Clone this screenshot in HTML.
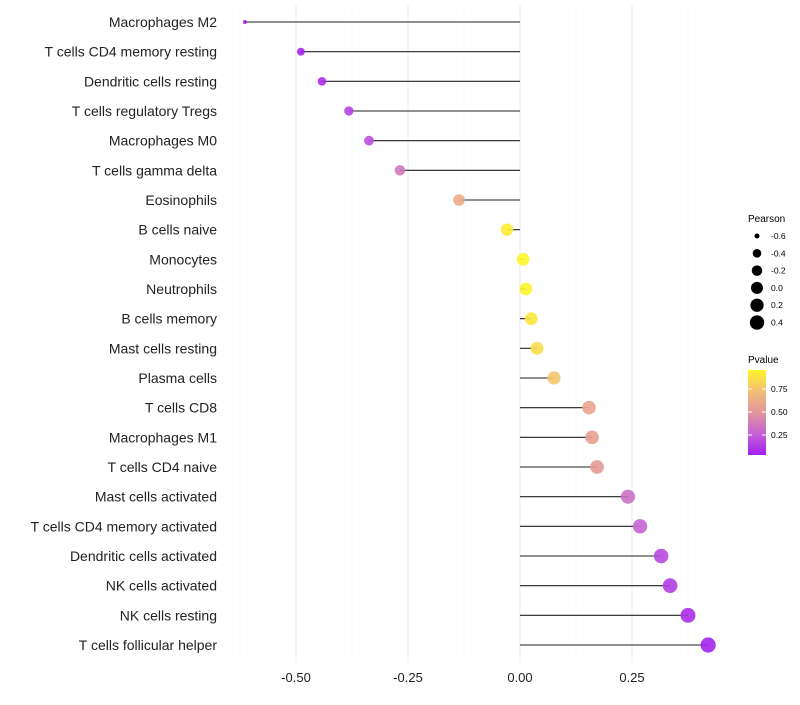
<!DOCTYPE html>
<html><head><meta charset="utf-8"><style>
body{margin:0;background:#fff;font-family:"Liberation Sans",sans-serif}
svg text{font-family:"Liberation Sans",sans-serif}
</style></head><body>
<svg id="chart" width="800" height="700" xmlns="http://www.w3.org/2000/svg">
<defs><linearGradient id="pg" x1="0" y1="1" x2="0" y2="0">
<stop offset="0" stop-color="#a21ff0"/><stop offset="0.25" stop-color="#c462d4"/><stop offset="0.5" stop-color="#e2969a"/><stop offset="0.75" stop-color="#f2be78"/><stop offset="1" stop-color="#fff52a"/></linearGradient></defs>
<g id="grid"></g>
<g id="marks"></g>
<g id="axes"></g>
<g id="sizeLeg">
<text x="748" y="222" font-size="10">Pearson</text>
</g>
<g>
<text x="748" y="363" font-size="10">Pvalue</text>
<rect x="748" y="370" width="18" height="85" fill="url(#pg)"/>
<line x1="748" y1="389" x2="752" y2="389" stroke="#fff"/><line x1="762" y1="389" x2="766" y2="389" stroke="#fff"/>
<line x1="748" y1="412" x2="752" y2="412" stroke="#fff"/><line x1="762" y1="412" x2="766" y2="412" stroke="#fff"/>
<line x1="748" y1="435" x2="752" y2="435" stroke="#fff"/><line x1="762" y1="435" x2="766" y2="435" stroke="#fff"/>
<text x="771" y="392" font-size="8.5">0.75</text>
<text x="771" y="415" font-size="8.5">0.50</text>
<text x="771" y="438" font-size="8.5">0.25</text>
</g>
</svg>
<script>
const categories=["Macrophages M2","T cells CD4 memory resting","Dendritic cells resting","T cells regulatory  Tregs ","Macrophages M0","T cells gamma delta","Eosinophils","B cells naive","Monocytes","Neutrophils","B cells memory","Mast cells resting","Plasma cells","T cells CD8","Macrophages M1","T cells CD4 naive","Mast cells activated","T cells CD4 memory activated","Dendritic cells activated","NK cells activated","NK cells resting","T cells follicular helper"];
const pearson=[-0.614,-0.489,-0.442,-0.382,-0.337,-0.268,-0.136,-0.029,0.007,0.013,0.025,0.038,0.076,0.154,0.161,0.172,0.241,0.268,0.315,0.335,0.375,0.42];
const pvalues=[0.03,0.05,0.08,0.15,0.2,0.35,0.62,0.92,0.97,0.95,0.9,0.86,0.76,0.58,0.56,0.52,0.32,0.27,0.18,0.14,0.09,0.05];
const xTicks=[-0.5,-0.25,0,0.25];
const xTickLabels=["-0.50","-0.25","0.00","0.25"];
const sizeLegendValues=[-0.6,-0.4,-0.2,0.0,0.2,0.4];
const sizeLegendLabels=["-0.6","-0.4","-0.2","0.0","0.2","0.4"];
const NS="http://www.w3.org/2000/svg";
const x=v=>520+v*448;
const y=i=>22+i*29.667;
const r=v=>2+5.6*Math.sqrt(Math.max(0,(v+0.614)/1.034));
const stops=[[0,[162,31,240]],[0.25,[196,98,212]],[0.5,[226,150,154]],[0.75,[242,190,120]],[1,[255,245,42]]];
function col(p){const t=Math.max(0,Math.min(1,(p-0.03)/0.93));for(let k=1;k<stops.length;k++){if(t<=stops[k][0]){const a=stops[k-1],b=stops[k],f=(t-a[0])/(b[0]-a[0]);return "rgb("+a[1].map((c,j)=>Math.round(c+(b[1][j]-c)*f)).join(",")+")";}}return "rgb(255,245,42)";}
function mk(t,at,parent){const e=document.createElementNS(NS,t);for(const k in at)e.setAttribute(k,at[k]);parent.appendChild(e);return e;}
const grid=document.getElementById('grid'),marks=document.getElementById('marks'),axes=document.getElementById('axes');
for(let v=-0.625;v<=0.45;v+=0.125){const major=Math.abs(v*4-Math.round(v*4))<1e-6;const g=mk('line',{x1:x(v),x2:x(v),y1:5,y2:662,stroke:major?'#ebebeb':'#f4f4f4','stroke-width':major?1:0.6},grid);

}
xTicks.forEach((v,i)=>{const t=mk('text',{x:x(v),y:682,'font-size':13,'text-anchor':'middle',fill:'#222'},axes);t.textContent=xTickLabels[i];

});
categories.forEach((c,i)=>{const t=mk('text',{x:217,y:y(i)+5,'font-size':14,'text-anchor':'end',fill:'#222','xml:space':'preserve'},axes);t.textContent=c;


const l=mk('line',{x1:x(0),x2:x(pearson[i]),y1:y(i),y2:y(i),stroke:'#222','stroke-width':1.1},marks);


const ci=mk('circle',{cx:x(pearson[i]),cy:y(i),r:r(pearson[i]),fill:col(pvalues[i]),'fill-opacity':0.9},marks);

});
const sl=document.getElementById('sizeLeg');
sizeLegendValues.forEach((v,i)=>{const cy=236+i*17.3;const c=mk('circle',{cx:757,cy:cy,r:r(v)*0.95,fill:'#000'},sl);


const t=mk('text',{x:771,y:cy+3,'font-size':8.5},sl);t.textContent=sizeLegendLabels[i];

});
</script>
</body></html>
